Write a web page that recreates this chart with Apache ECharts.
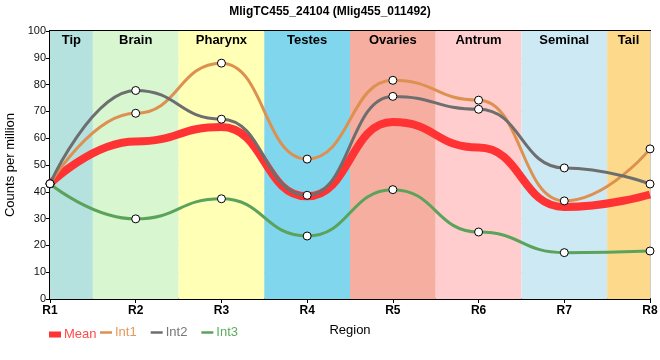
<!DOCTYPE html>
<html><head><meta charset="utf-8">
<script src="https://cdn.jsdelivr.net/npm/echarts@6/dist/echarts.min.js"></script>
<style>html,body{margin:0;padding:0;background:#fff}#c{width:660px;height:360px}</style>
</head><body><div id="c"></div>
<script>
var categories = ['R1','R2','R3','R4','R5','R6','R7','R8'];
var mean = [43, 58.8, 64.2, 38.3, 66, 56.5, 34.3, 39];
var int1 = [43, 69.3, 88, 52.2, 81.6, 74.2, 36.6, 56];
var int2 = [43, 77.8, 67.1, 38.7, 75.6, 70.8, 48.9, 42.9];
var int3 = [43, 29.9, 37.4, 23.5, 40.8, 25, 17.3, 17.9];
var regionNames = ['Tip','Brain','Pharynx','Testes','Ovaries','Antrum','Seminal','Tail'];
var regionStarts = [0, 0.5, 1.5, 2.5, 3.5, 4.5, 5.5, 6.5];
var regionEnds = [0.5, 1.5, 2.5, 3.5, 4.5, 5.5, 6.5, 7];
var regionColors = ['#b5e2de','#d8f6d0','#ffffb5','#80d6ec','#f6aea1','#ffcdcd','#cdeaf4','#fdda8b'];
var yTicks = [0,10,20,30,40,50,60,70,80,90,100];

var FONT = "'Liberation Sans Narrow','Liberation Sans',Arial,sans-serif";
function pts(arr){ return arr.map(function(v,i){ return [i, v]; }); }
var bands = regionNames.map(function(n,i){
  return [{name:n, xAxis:regionStarts[i], yAxis:100, itemStyle:{color:regionColors[i]}}, {xAxis:regionEnds[i], yAxis:0}];
});
var chart = echarts.init(document.getElementById('c'), null, {renderer:'canvas'});
var lineSeries = function(name, data, color){
  return {name:name, type:'line', data:pts(data), smooth:0.5, smoothMonotone:'x',
    symbol:'circle', symbolSize:8, showSymbol:true,
    itemStyle:{color:'#fff', borderColor:'#000', borderWidth:1},
    lineStyle:{color:color, width:3}, z:3};
};
chart.setOption({
  animation:false,
  textStyle:{fontFamily:FONT},
  title:{text:'MligTC455_24104 (Mlig455_011492)', left:'center', top:1,
    textStyle:{fontFamily:FONT, fontSize:12, fontWeight:'bold', color:'#000'}},
  grid:{left:50, right:10, top:31, bottom:61, show:true, borderColor:'#000', borderWidth:2, backgroundColor:'transparent', outerBoundsMode:'none', containLabel:false},
  legend:[
    {left:44, top:323, itemWidth:12, itemHeight:6, icon:'rect', itemGap:5,
      data:[{name:'Mean', icon:'rect', textStyle:{color:'#ff4b4b'}, itemStyle:{color:'#ff3333', borderWidth:0}}],
      textStyle:{fontFamily:FONT, fontSize:13, padding:[0,0,0,-2]}},
    {left:95, top:321, itemWidth:12, itemHeight:2.5, icon:'rect', itemGap:14,
      data:[{name:'Int1', icon:'rect', textStyle:{color:'#e3995c'}, itemStyle:{color:'#dd9050', borderWidth:0}},
            {name:'Int2', icon:'rect', textStyle:{color:'#777'}, itemStyle:{color:'#6e6e6e', borderWidth:0}},
            {name:'Int3', icon:'rect', textStyle:{color:'#5fab5f'}, itemStyle:{color:'#5ba35b', borderWidth:0}}],
      textStyle:{fontFamily:FONT, fontSize:13, padding:[0,0,0,-2]}}
  ],
  xAxis:{type:'value', min:0, max:7, interval:1, name:'Region', nameLocation:'middle', nameGap:25,
    nameTextStyle:{fontFamily:FONT, fontSize:13, color:'#000'},
    axisLine:{lineStyle:{color:'#000', width:2}}, axisTick:{show:true, length:4, lineStyle:{color:'#000'}},
    axisLabel:{formatter:function(v){return categories[v];}, color:'#000', fontFamily:FONT, fontSize:12, fontWeight:'bold', margin:6},
    splitLine:{show:true, lineStyle:{color:'#cccccc', width:1}}},
  yAxis:{type:'value', min:0, max:100, interval:10, name:'Counts per million', nameLocation:'middle', nameGap:24,
    nameTextStyle:{fontFamily:FONT, fontSize:13, color:'#000'},
    axisLine:{show:true, lineStyle:{color:'#000', width:2}}, axisTick:{show:true, length:4, lineStyle:{color:'#000'}},
    axisLabel:{formatter:function(v){return yTicks.indexOf(v)>=0? String(v):'';}, color:'#111', fontFamily:FONT, fontSize:11, margin:4},
    splitLine:{show:true, lineStyle:{color:'#cccccc', width:1}}},
  series:[
    {name:'bands', type:'line', data:[[0,null]], z:-1, silent:true, symbol:'none',
      markArea:{silent:true, data:bands,
        label:{show:true, position:'insideTop', distance:3, color:'#000', fontFamily:FONT, fontSize:13, fontWeight:'bold'}}},
    {name:'Mean', type:'line', data:pts(mean), smooth:0.5, smoothMonotone:'x', symbol:'none',
      lineStyle:{color:'#ff3333', width:8}, itemStyle:{color:'#ff3333'}, z:2},
    lineSeries('Int1', int1, '#dd9050'),
    lineSeries('Int2', int2, '#6e6e6e'),
    lineSeries('Int3', int3, '#5ba35b')
  ]
});
</script></body></html>
